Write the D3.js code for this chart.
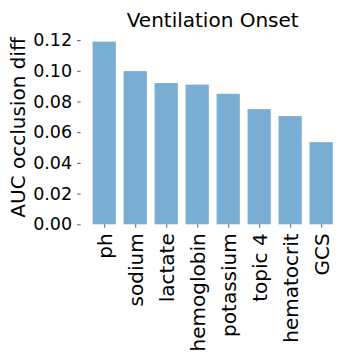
<!DOCTYPE html>
<html>
<head>
<meta charset="utf-8">
<script src="https://cdn.jsdelivr.net/npm/d3@7"></script>
<style>
  body { margin: 0; background: #fff; }
  svg { display: block; font-family: "DejaVu Sans", sans-serif; }
</style>
</head>
<body>
<svg width="360" height="360"></svg>
<script>
var features = ["ph", "sodium", "lactate", "hemoglobin", "potassium", "topic 4", "hematocrit", "GCS"];
var occlusionDiff = [0.119, 0.0998, 0.092, 0.091, 0.085, 0.075, 0.0705, 0.0535];
var yTicks = [0.00, 0.02, 0.04, 0.06, 0.08, 0.10, 0.12];

var svg = d3.select("svg");

var barWidth = 0.75;

// matplotlib-like limits: index positions with 5% margins
var xScale = d3.scaleLinear()
    .domain([-0.7625, 7.7625])
    .range([80.6, 344.8]);

var yScale = d3.scaleLinear()
    .domain([0, 0.12])
    .range([224.3, 40.1]);

// bars
svg.selectAll(".bar").data(occlusionDiff)
    .enter().append("rect")
    .attr("class", "bar")
    .attr("x", (d, i) => xScale(i - barWidth / 2))
    .attr("width", (d, i) => xScale(i + barWidth / 2) - xScale(i - barWidth / 2))
    .attr("y", d => yScale(d))
    .attr("height", d => yScale(0) - yScale(d))
    .style("fill", "#79add2");

// y axis
var yAxis = d3.axisLeft(yScale)
    .tickValues(yTicks)
    .tickFormat(d3.format(".2f"))
    .tickSize(3.5)
    .tickPadding(5);

var gy = svg.append("g")
    .attr("transform", "translate(80.6,0)")
    .call(yAxis);
gy.select(".domain").remove();
gy.selectAll(".tick line").attr("stroke", "#333").attr("stroke-width", 0.8);
gy.selectAll(".tick text")
    .style("font-size", "17.5px")
    .style("font-family", "DejaVu Sans")
    .attr("fill", "#000");

// x axis
var xAxis = d3.axisBottom(xScale)
    .tickValues(d3.range(features.length))
    .tickFormat(i => features[i])
    .tickSize(3.5)
    .tickPadding(5);

var gx = svg.append("g")
    .attr("transform", "translate(0,224.3)")
    .call(xAxis);
gx.select(".domain").remove();
gx.selectAll(".tick line").attr("stroke", "#333").attr("stroke-width", 0.8);
gx.selectAll(".tick text")
    .style("font-size", "20px")
    .style("font-family", "DejaVu Sans")
    .attr("fill", "#000")
    .attr("transform", "rotate(-90)")
    .attr("text-anchor", "end")
    .attr("x", -9)
    .attr("y", 0)
    .attr("dy", "0.35em");

// title
svg.append("text")
    .attr("x", (80.6 + 344.8) / 2)
    .attr("y", 26.7)
    .attr("text-anchor", "middle")
    .style("font-size", "20px")
    .text("Ventilation Onset");

// y label
svg.append("text")
    .attr("transform", "translate(24.5," + ((40 + 215) / 2) + ") rotate(-90)")
    .attr("text-anchor", "middle")
    .style("font-size", "20px")
    .text("AUC occlusion diff");
</script>
</body>
</html>
